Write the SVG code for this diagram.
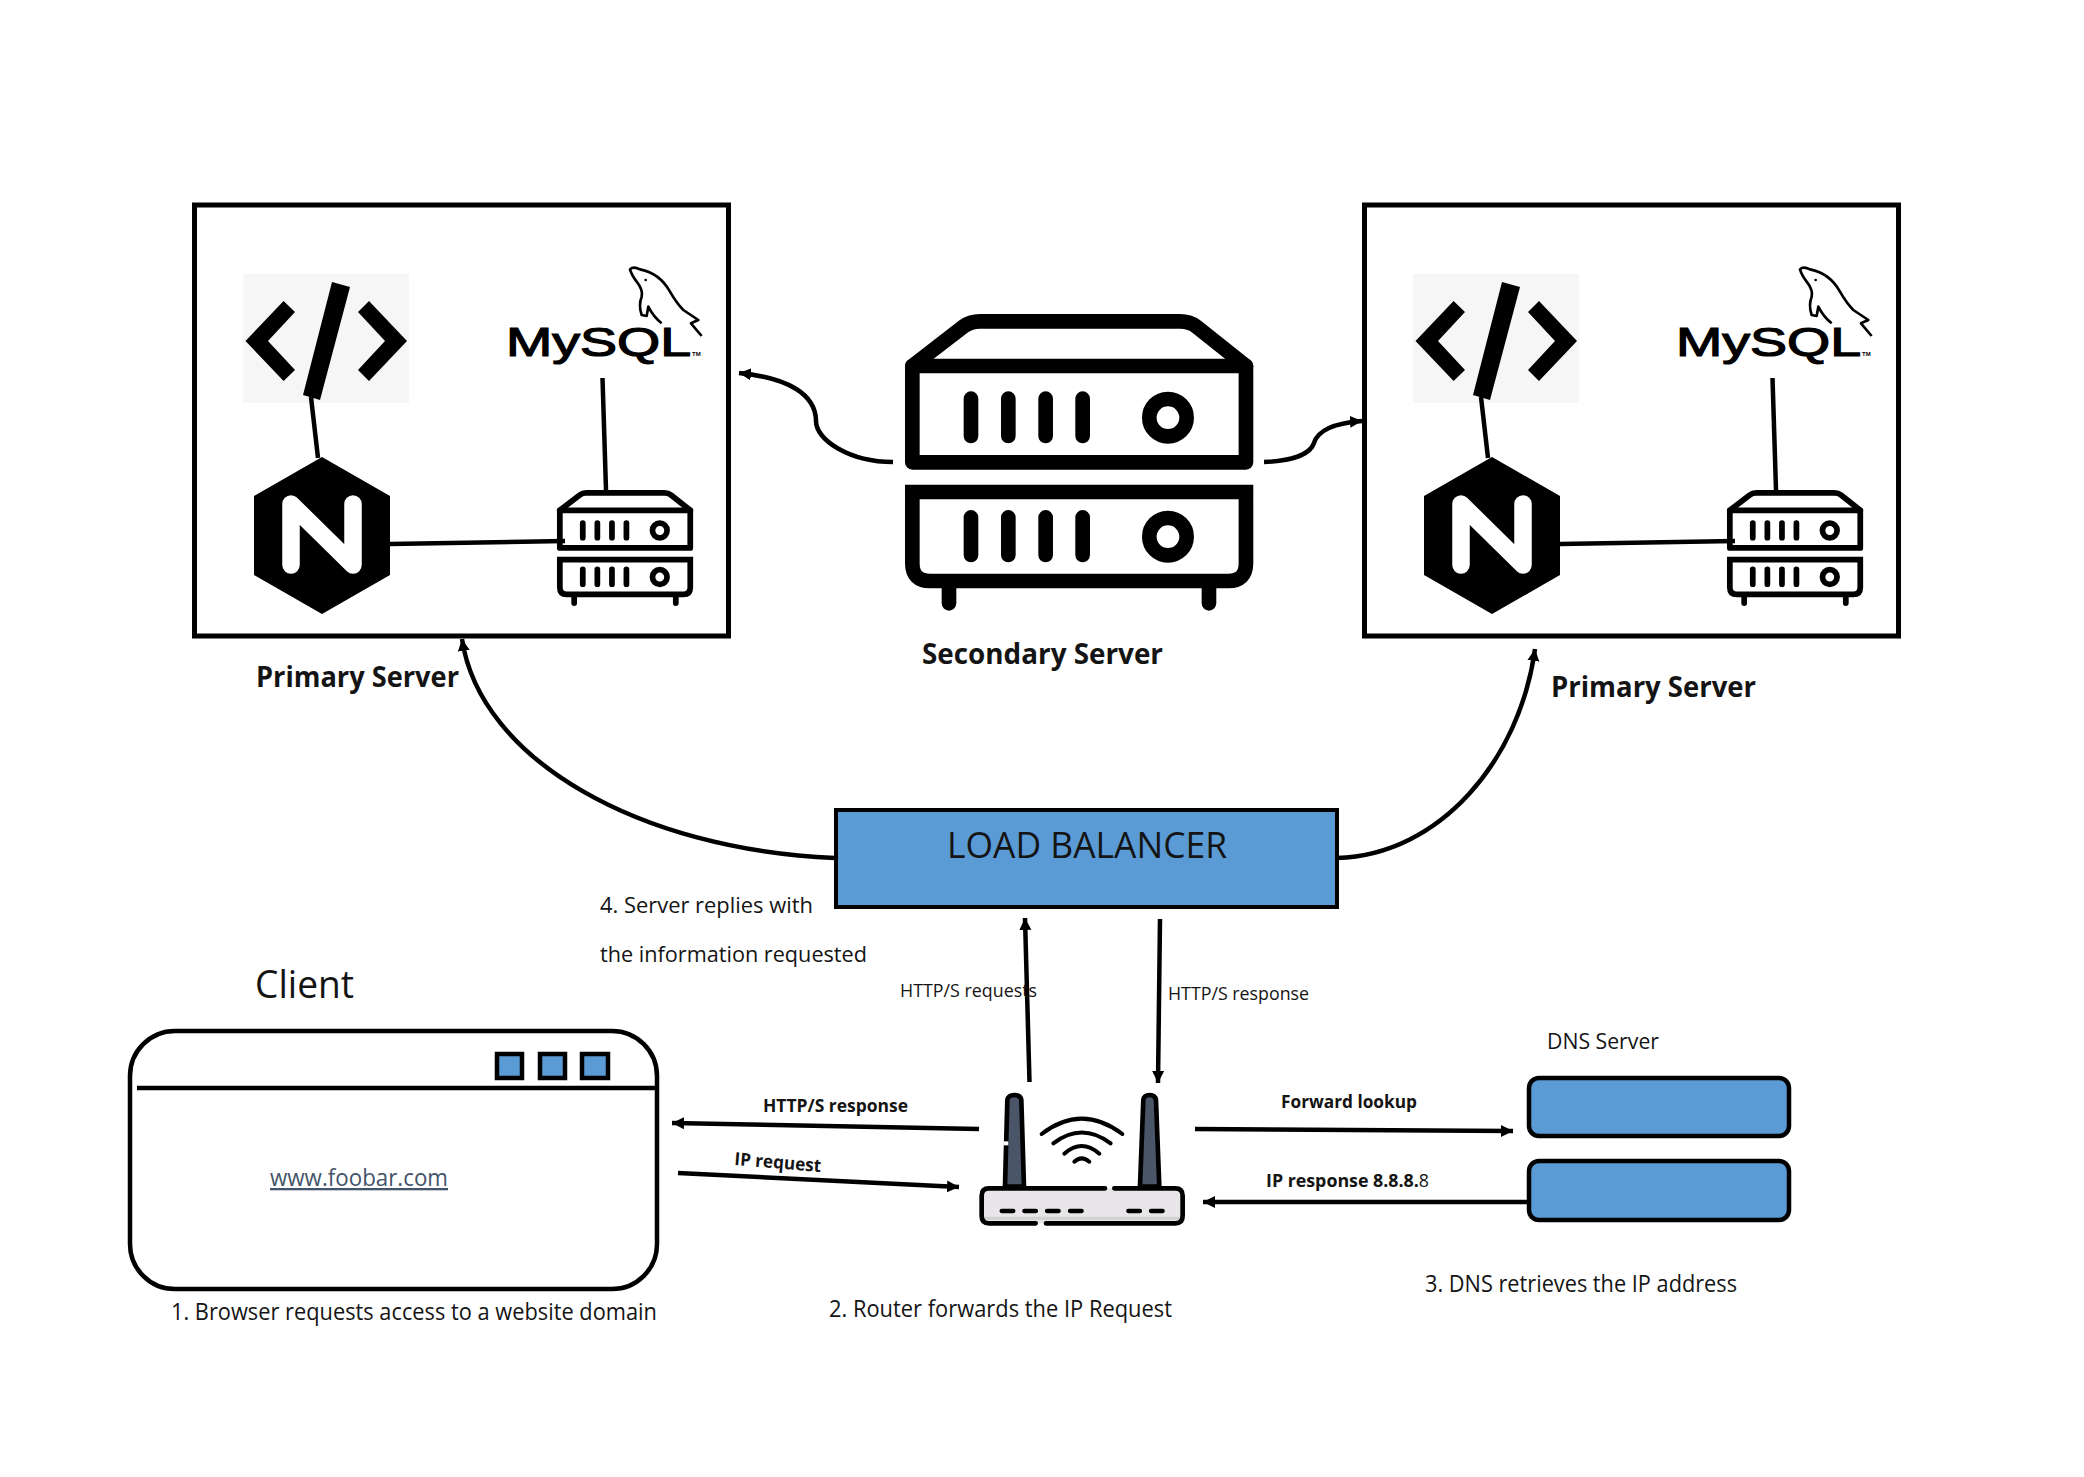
<svg xmlns="http://www.w3.org/2000/svg" xmlns:xlink="http://www.w3.org/1999/xlink" width="2084" height="1477" viewBox="0 0 2084 1477">
<style>
text{font-family:"Open Sans","Noto Sans","Liberation Sans",sans-serif;fill:#141414}
.b{font-weight:bold}
.c{fill:none;stroke:#000;stroke-width:4.500}
.a{marker-end:url(#arrow)}
.box{fill:#fff;stroke:#000;stroke-width:5}
.blue{fill:#5B9BD5;stroke:#000}
.ln{fill:none;stroke:#000;stroke-linecap:round;stroke-linejoin:round}
</style>
<defs>
<marker id="arrow" markerUnits="userSpaceOnUse" markerWidth="14" markerHeight="14" refX="12" refY="6.5" orient="auto"><path d="M0,0.5L12,6.5L0,12.5Z" fill="#000"/></marker>
<g id="srv" class="ln" stroke-width="44">
<path d="M97,228L250,110Q270,94 300,94H900Q930,94 950,110L1098,228"/>
<rect x="97" y="228" width="1001" height="289" stroke-linejoin="round"/>
<path d="M97,606H1098V820Q1098,873 1045,873H150Q97,873 97,820Z" stroke-linejoin="miter"/>
<path d="M207,890V940M987,890V940M273,326V438M385,326V438M497,326V438M608,326V438M273,682V795M385,682V795M497,682V795M608,682V795"/>
<circle cx="864" cy="383" r="56"/><circle cx="864" cy="740" r="56"/>
</g>
<g id="inner">
<rect x="243" y="274" width="166" height="129" fill="#f6f6f6"/>
<path d="M245.500,341L283.600,301L295,312L268,341L295,370L283.600,381ZM407,341L369,301L358,312L385,341L358,370L369,381ZM332,282L350,287L320,400L303,395Z" fill="#000"/>
<path d="M322,457L390,496V575L322,614L254,575V496Z" fill="#000"/>
<path d="M291,565V504L353,565V504" fill="none" stroke="#fff" stroke-width="17.500" stroke-linecap="round" stroke-linejoin="round"/>
<use xlink:href="#srv" href="#srv" transform="translate(547.200,480.600) scale(.1303)"/>
<g transform="translate(490,260) scale(.3333)">
<path d="M635,228L603,190L625,180L580,150Q560,130 540,95Q510,40 450,28Q430,18 420,28Q425,45 440,65Q460,90 455,110Q445,135 455,165L470,168L475,140Q490,170 515,190" fill="none" stroke="#000" stroke-width="8" stroke-linejoin="round"/>
<circle cx="467" cy="60" r="4"/>
</g>
<text x="506" y="356" font-size="40" textLength="185" lengthAdjust="spacingAndGlyphs" style="fill:#000;stroke:#000;stroke-width:1.200;font-family:'Liberation Sans',sans-serif">MySQL</text>
<text x="692" y="356" font-size="6" class="b" style="fill:#000;font-family:'Liberation Sans',sans-serif">TM</text>
</g>
</defs>
<rect width="2084" height="1477" fill="#fff"/>

<g id="primary-left">
<rect class="box" x="194.500" y="205" width="534" height="431"/>
<use xlink:href="#inner" href="#inner"/>
<text class="b" x="256" y="687" font-size="28" textLength="203" lengthAdjust="spacingAndGlyphs">Primary Server</text>
</g>
<g id="primary-right">
<rect class="box" x="1364.500" y="205" width="534" height="431"/>
<use xlink:href="#inner" href="#inner" transform="translate(1170,0)"/>
<text class="b" x="1551" y="697" font-size="28" textLength="205" lengthAdjust="spacingAndGlyphs">Primary Server</text>
</g>
<g id="secondary-server">
<use xlink:href="#srv" href="#srv" transform="translate(880,290) scale(.3333)"/>
<text class="b" x="922" y="664" font-size="28" textLength="241" lengthAdjust="spacingAndGlyphs">Secondary Server</text>
</g>
<g id="load-balancer">
<rect class="blue" stroke-width="4" x="836" y="810" width="501" height="97"/>
<text x="947" y="858" font-size="36" textLength="280" lengthAdjust="spacingAndGlyphs">LOAD BALANCER</text>
</g>
<g id="client">
<text x="255" y="998" font-size="38" textLength="99" lengthAdjust="spacingAndGlyphs">Client</text>
<rect x="130" y="1031" width="527" height="258" rx="45" fill="#fff" stroke="#000" stroke-width="4.500"/>
<path d="M137,1088H656" stroke="#000" stroke-width="4.500"/>
<rect class="blue" stroke-width="4.500" x="497" y="1054" width="25" height="24"/>
<rect class="blue" stroke-width="4.500" x="540" y="1054" width="25" height="24"/>
<rect class="blue" stroke-width="4.500" x="582" y="1054" width="26" height="24"/>
<text x="270" y="1186" font-size="23" textLength="178" lengthAdjust="spacingAndGlyphs" text-decoration="underline" style="fill:#44546A">www.foobar.com</text>
<text x="171" y="1320" font-size="23" textLength="486" lengthAdjust="spacingAndGlyphs">1. Browser requests access to a website domain</text>
</g>
<g id="router">
<g transform="translate(960,1060) scale(.3333)">
<rect x="65" y="385" width="603" height="105" rx="22" fill="#E8E6E8"/>
<path d="M70,470H663V480H70Z" fill="#D2D0D3"/>
<path d="M135,380L142,120Q145,105 163,105Q182,105 184,120L192,380Z" fill="#4A5568" stroke="#000" stroke-width="14" stroke-linejoin="round"/>
<path d="M540,380L550,120Q552,105 569,105Q586,105 588,120L598,380Z" fill="#4A5568" stroke="#000" stroke-width="14" stroke-linejoin="round"/>
<path d="M130,250L145,250" stroke="#fff" stroke-width="12"/>
<path class="ln" stroke-width="14" d="M435,385H87Q65,385 65,407V468Q65,490 87,490H227M258,490H646Q668,490 668,468V407Q668,385 646,385H463"/>
<path class="ln" stroke-width="13" d="M125,453H160M193,453H228M261,453H296M330,453H365M505,453H540M573,453H608"/>
<path class="ln" stroke-width="12" d="M245,222Q365,130 487,222M280,250Q365,185 452,250M313,281Q365,235 418,281M343,305Q365,285 388,305"/>
</g>
<text x="829" y="1317" font-size="23" textLength="343" lengthAdjust="spacingAndGlyphs">2. Router forwards the IP Request</text>
</g>
<g id="dns-server">
<text x="1547" y="1049" font-size="22" textLength="112" lengthAdjust="spacingAndGlyphs">DNS Server</text>
<rect class="blue" stroke-width="4.500" x="1529" y="1078" width="260" height="58" rx="10"/>
<rect class="blue" stroke-width="4.500" x="1529" y="1161" width="260" height="59" rx="10"/>
<text x="1425" y="1292" font-size="23" textLength="312" lengthAdjust="spacingAndGlyphs">3. DNS retrieves the IP address</text>
</g>
<g id="connectors">
<path class="c" d="M311,397L318,458M602.500,378L606,490M390,544L565,541"/>
<path class="c" d="M1481,397L1488,458M1772.500,378L1776,490M1560,544L1735,541"/>
<path class="c a" d="M893,462C850,462 815,440 816,420C815,395 790,378 739,373"/>
<path class="c a" d="M1264,462C1290,461 1310,455 1314,443C1318,430 1335,423 1362,421"/>
<path class="c a" d="M835,858C640,850 480,760 462,639"/>
<path class="c a" d="M1337,858C1440,855 1520,760 1535,649"/>
<path class="c a" d="M1029.500,1082L1025,918"/>
<path class="c a" d="M1160,919L1158,1083"/>
<path class="c a" d="M979,1129L672,1123"/>
<path class="c a" d="M678,1173L959,1187"/>
<path class="c a" d="M1195,1129L1513,1131"/>
<path class="c a" d="M1527,1202H1203"/>
</g>
<g id="labels">
<text x="600" y="913" font-size="22" textLength="213" lengthAdjust="spacingAndGlyphs">4. Server replies with</text>
<text x="600" y="962" font-size="22" textLength="267" lengthAdjust="spacingAndGlyphs">the information requested</text>
<text x="900" y="997" font-size="19" textLength="137" lengthAdjust="spacingAndGlyphs">HTTP/S requests</text>
<text x="1168" y="1000" font-size="19" textLength="141" lengthAdjust="spacingAndGlyphs">HTTP/S response</text>
<text class="b" x="763" y="1112" font-size="18" textLength="145" lengthAdjust="spacingAndGlyphs">HTTP/S response</text>
<text class="b" x="734" y="1165" font-size="18" textLength="87" lengthAdjust="spacingAndGlyphs" transform="rotate(4.600 734 1165)">IP request</text>
<text class="b" x="1281" y="1108" font-size="18" textLength="136" lengthAdjust="spacingAndGlyphs">Forward lookup</text>
<text class="b" x="1266" y="1187" font-size="18" textLength="163" lengthAdjust="spacingAndGlyphs">IP response 8.8.8.<tspan font-weight="normal">8</tspan></text>
</g>
</svg>
